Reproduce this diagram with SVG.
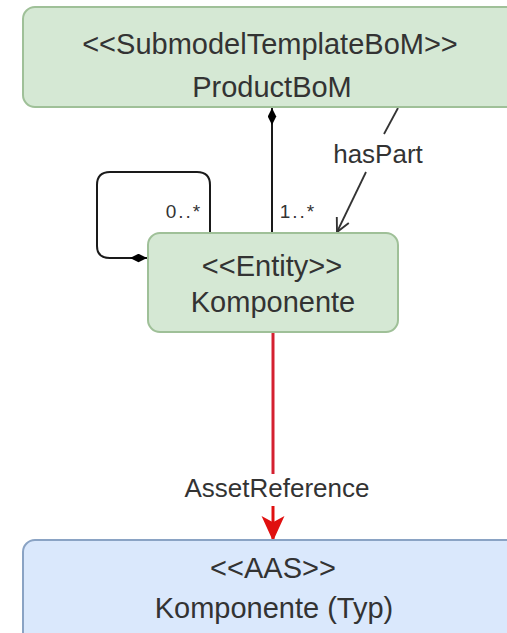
<svg xmlns="http://www.w3.org/2000/svg" width="507" height="633" viewBox="0 0 507 633">
<style>
.green{fill:#d5e8d4;stroke:#9fc098;stroke-width:2}
.blue{fill:#dae8fc;stroke:#8aa3c4;stroke-width:2}
.t{font-family:"Liberation Sans",Arial,sans-serif;font-size:29px;fill:#333;text-anchor:middle}
.lbl{font-family:"Liberation Sans",Arial,sans-serif;font-size:26px;fill:#333;text-anchor:middle}
.small{font-family:"Liberation Sans",Arial,sans-serif;font-size:19px;letter-spacing:2px;fill:#333;text-anchor:middle}
.edge{fill:none;stroke:#1a1a1a;stroke-width:2}
</style>
<defs>
<marker id="diamond" viewBox="0 0 20 10" refX="20" refY="5" markerWidth="17" markerHeight="9" markerUnits="userSpaceOnUse" orient="auto">
<path d="M0,5 L10,0 L20,5 L10,10 Z" fill="#000"/>
</marker>
<marker id="open" viewBox="0 0 12 12" refX="11" refY="6" markerWidth="16" markerHeight="16" markerUnits="userSpaceOnUse" orient="auto">
<path d="M1,1 L11,6 L1,11" fill="none" stroke="#333" stroke-width="1.4"/>
</marker>
<marker id="red" viewBox="0 0 12 12" refX="11" refY="6" markerWidth="25" markerHeight="25" markerUnits="userSpaceOnUse" orient="auto">
<path d="M0,0.5 L12,6 L0,11.5 L3,6 Z" fill="#e01010"/>
</marker>
</defs>
<g id="edges">
<line class="edge" x1="272" y1="233" x2="272" y2="108" marker-end="url(#diamond)"/>
<text class="small" x="298" y="218">1..*</text>
<line x1="398" y1="108" x2="384" y2="134" stroke="#333" stroke-width="1.8"/>
<text class="lbl" x="378" y="163">hasPart</text>
<line x1="366" y1="172" x2="337" y2="232" stroke="#333" stroke-width="1.8" marker-end="url(#open)"/>
<path class="edge" d="M210,233 V185 Q210,172 197,172 H110 Q97,172 97,185 V246 Q97,258 110,258 H147" marker-end="url(#diamond)"/>
<text class="small" x="184" y="218">0..*</text>
<line x1="273" y1="333" x2="273" y2="474" stroke="#d42030" stroke-width="3"/>
<text class="lbl" x="277" y="497">AssetReference</text>
<line x1="273" y1="506" x2="273" y2="539" stroke="#e01010" stroke-width="3" marker-end="url(#red)"/>
</g>
<g id="productbom">
<rect class="green" x="23" y="7" width="496" height="100" rx="12"/>
<text class="t" x="270" y="54">&lt;&lt;SubmodelTemplateBoM&gt;&gt;</text>
<text class="t" x="272" y="97">ProductBoM</text>
</g>
<g id="komponente">
<rect class="green" x="148" y="233" width="250" height="99" rx="12"/>
<text class="t" x="272" y="276">&lt;&lt;Entity&gt;&gt;</text>
<text class="t" x="273" y="312">Komponente</text>
</g>
<g id="aas">
<rect class="blue" x="23" y="540" width="496" height="110" rx="12"/>
<text class="t" x="273" y="578">&lt;&lt;AAS&gt;&gt;</text>
<text class="t" x="274" y="618">Komponente (Typ)</text>
</g>
</svg>
